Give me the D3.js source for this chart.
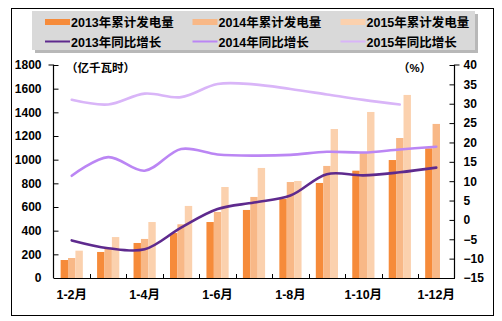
<!DOCTYPE html>
<html><head><meta charset="utf-8">
<script src="https://cdn.jsdelivr.net/npm/d3@7"></script>
<style>
html,body{margin:0;padding:0;background:#fff;}
svg{display:block;}
text{font-family:"Liberation Sans","Noto Sans CJK SC",sans-serif;font-weight:bold;}
</style></head>
<body>
<script>
const categories = ["1-2月","1-3月","1-4月","1-5月","1-6月","1-7月","1-8月","1-9月","1-10月","1-11月","1-12月"];
const shownLabels = ["1-2月","1-4月","1-6月","1-8月","1-10月","1-12月"];
const gen2013 = [152, 220, 296, 380, 473, 575, 668, 803, 907, 997, 1096];
const gen2014 = [169, 250, 330, 454, 558, 685, 811, 947, 1056, 1183, 1302];
const gen2015 = [231, 346, 473, 609, 769, 930, 820, 1259, 1403, 1547, null];
const growth2013 = [-5.3, -7.3, -7.6, -2.0, 2.8, 4.5, 6.3, 11.8, 11.5, 12.3, 13.5];
const growth2014 = [11.4, 16.2, 12.7, 18.3, 16.9, 16.6, 16.8, 17.6, 17.4, 18.2, 18.9];
const growth2015 = [31.0, 29.8, 32.6, 31.7, 35.1, 35.0, 33.8, 32.4, 31.0, 29.8, null];
const leftTicks = [0,200,400,600,800,1000,1200,1400,1600,1800];
const rightTicks = [-15,-10,-5,0,5,10,15,20,25,30,35,40];
const barSeries = ["2013年累计发电量","2014年累计发电量","2015年累计发电量"];
const lineSeries = ["2013年同比增长","2014年同比增长","2015年同比增长"];

const barColors = ["#F68B3A","#F8B887","#FBD1AE"];
const lineColors = ["#5E2A8E","#BB86F4","#D9B5F8"];

const W = 502, H = 321;
const svg = d3.select("body").append("svg").attr("width", W).attr("height", H);

// outer border
svg.append("rect").attr("x",11.5).attr("y",8.5).attr("width",482).attr("height",307)
  .attr("fill","#fff").attr("stroke","#000").attr("stroke-width",1);

const plot = {l:53.5, r:454.5, t:65, b:278};
const x = d3.scaleBand().domain(categories).range([plot.l, plot.r]).padding(0);
const yL = d3.scaleLinear().domain([0,1800]).range([plot.b, plot.t]);
const yR = d3.scaleLinear().domain([-15,40]).range([plot.b, plot.t]);
const barW = 7.4;
const xs = d3.scaleBand().domain(barSeries).range([-1.5*barW, 1.5*barW]);

// bars
const barData = [gen2013, gen2014, gen2015];
barData.forEach((arr, si) => {
  svg.append("g").selectAll("rect").data(arr.map((v,i)=>({v, c:categories[i]})).filter(d=>d.v!=null))
    .join("rect")
    .attr("x", d => x(d.c) + x.bandwidth()/2 + xs(barSeries[si]))
    .attr("width", barW)
    .attr("y", d => yL(d.v))
    .attr("height", d => yL(0) - yL(d.v))
    .attr("fill", barColors[si]);
});

// lines
const lineData = [growth2013, growth2014, growth2015];
const line = d3.line()
  .defined(d => d.v != null)
  .x(d => x(d.c) + x.bandwidth()/2)
  .y(d => yR(d.v))
  .curve(d3.curveCatmullRom.alpha(0.5));
[2,1,0].forEach(si => {
  const arr = lineData[si].map((v,i)=>({v, c:categories[i]})).filter(d=>d.v!=null);
  svg.append("path").datum(arr).attr("d", line)
    .attr("fill","none").attr("stroke", lineColors[si]).attr("stroke-width", 2.6)
    .attr("stroke-linecap","round");
});

// axes
const axL = d3.axisLeft(yL).tickValues(leftTicks).tickSize(-5).tickPadding(12).tickFormat(d3.format("d"));
const gL = svg.append("g").attr("transform",`translate(${plot.l},0)`).call(axL);
const axR = d3.axisRight(yR).tickValues(rightTicks).tickSize(-5).tickPadding(10).tickFormat(d3.format("d"));
const gR = svg.append("g").attr("transform",`translate(${plot.r},0)`).call(axR);
const axB = d3.axisBottom(x).tickSize(0).tickPadding(12).tickFormat(d => shownLabels.includes(d) ? d : "");
const gB = svg.append("g").attr("transform",`translate(0,${plot.b})`).call(axB);
// inner ticks at band boundaries
svg.append("g").selectAll("line").data(categories.slice(1))
  .join("line")
  .attr("x1", d => Math.round(x(d))+0.5).attr("x2", d => Math.round(x(d))+0.5)
  .attr("y1", plot.b).attr("y2", plot.b-4).attr("stroke","#000");

[gL,gR,gB].forEach(g => {
  g.select(".domain").attr("stroke","#000").attr("stroke-width",1.2);
  g.selectAll(".tick line").attr("stroke","#000");
  g.selectAll("text").attr("fill","#000").style("font-size","12px").style("font-weight","bold")
   .style("font-family","'Liberation Sans','Noto Sans CJK SC',sans-serif");
});
gL.select(".domain").attr("d", `M-5,${plot.t}H0V${plot.b}`);
gR.select(".domain").attr("d", `M5,${plot.t}H0V${plot.b}`);
gL.selectAll(".tick line").attr("x2",5);
gR.selectAll(".tick line").attr("x2",-5);
gR.selectAll("text").attr("x", 9);
gB.selectAll("text").style("font-size","12.5px");

// axis unit labels
svg.append("text").attr("x",66).attr("y",72).text("（亿千瓦时）")
  .style("font-size","11.5px").attr("fill","#000");
svg.append("text").attr("x",398).attr("y",72).text("（%）")
  .style("font-size","11.5px").attr("fill","#000");

// legend
const lg = svg.append("g");
lg.append("rect").attr("x",35).attr("y",14).attr("width",443).attr("height",39).attr("fill","#9a9a9a").attr("opacity",0.7);
lg.append("rect").attr("x",32).attr("y",11).attr("width",443).attr("height",39).attr("fill","#d9d9d9");
const colX = [45, 192.5, 340.5];
barSeries.forEach((s,i) => {
  lg.append("rect").attr("x",colX[i]).attr("y",19).attr("width",25).attr("height",6).attr("fill",barColors[i]);
  lg.append("text").attr("x",colX[i]+26).attr("y",22).attr("dy","0.36em").text(s)
    .style("font-size","12.5px").attr("fill","#000");
});
lineSeries.forEach((s,i) => {
  lg.append("line").attr("x1",colX[i]).attr("x2",colX[i]+25).attr("y1",41.5).attr("y2",41.5)
    .attr("stroke",lineColors[i]).attr("stroke-width",2);
  lg.append("text").attr("x",colX[i]+26).attr("y",42).attr("dy","0.36em").text(s)
    .style("font-size","12.5px").attr("fill","#000");
});
</script>
</body></html>
